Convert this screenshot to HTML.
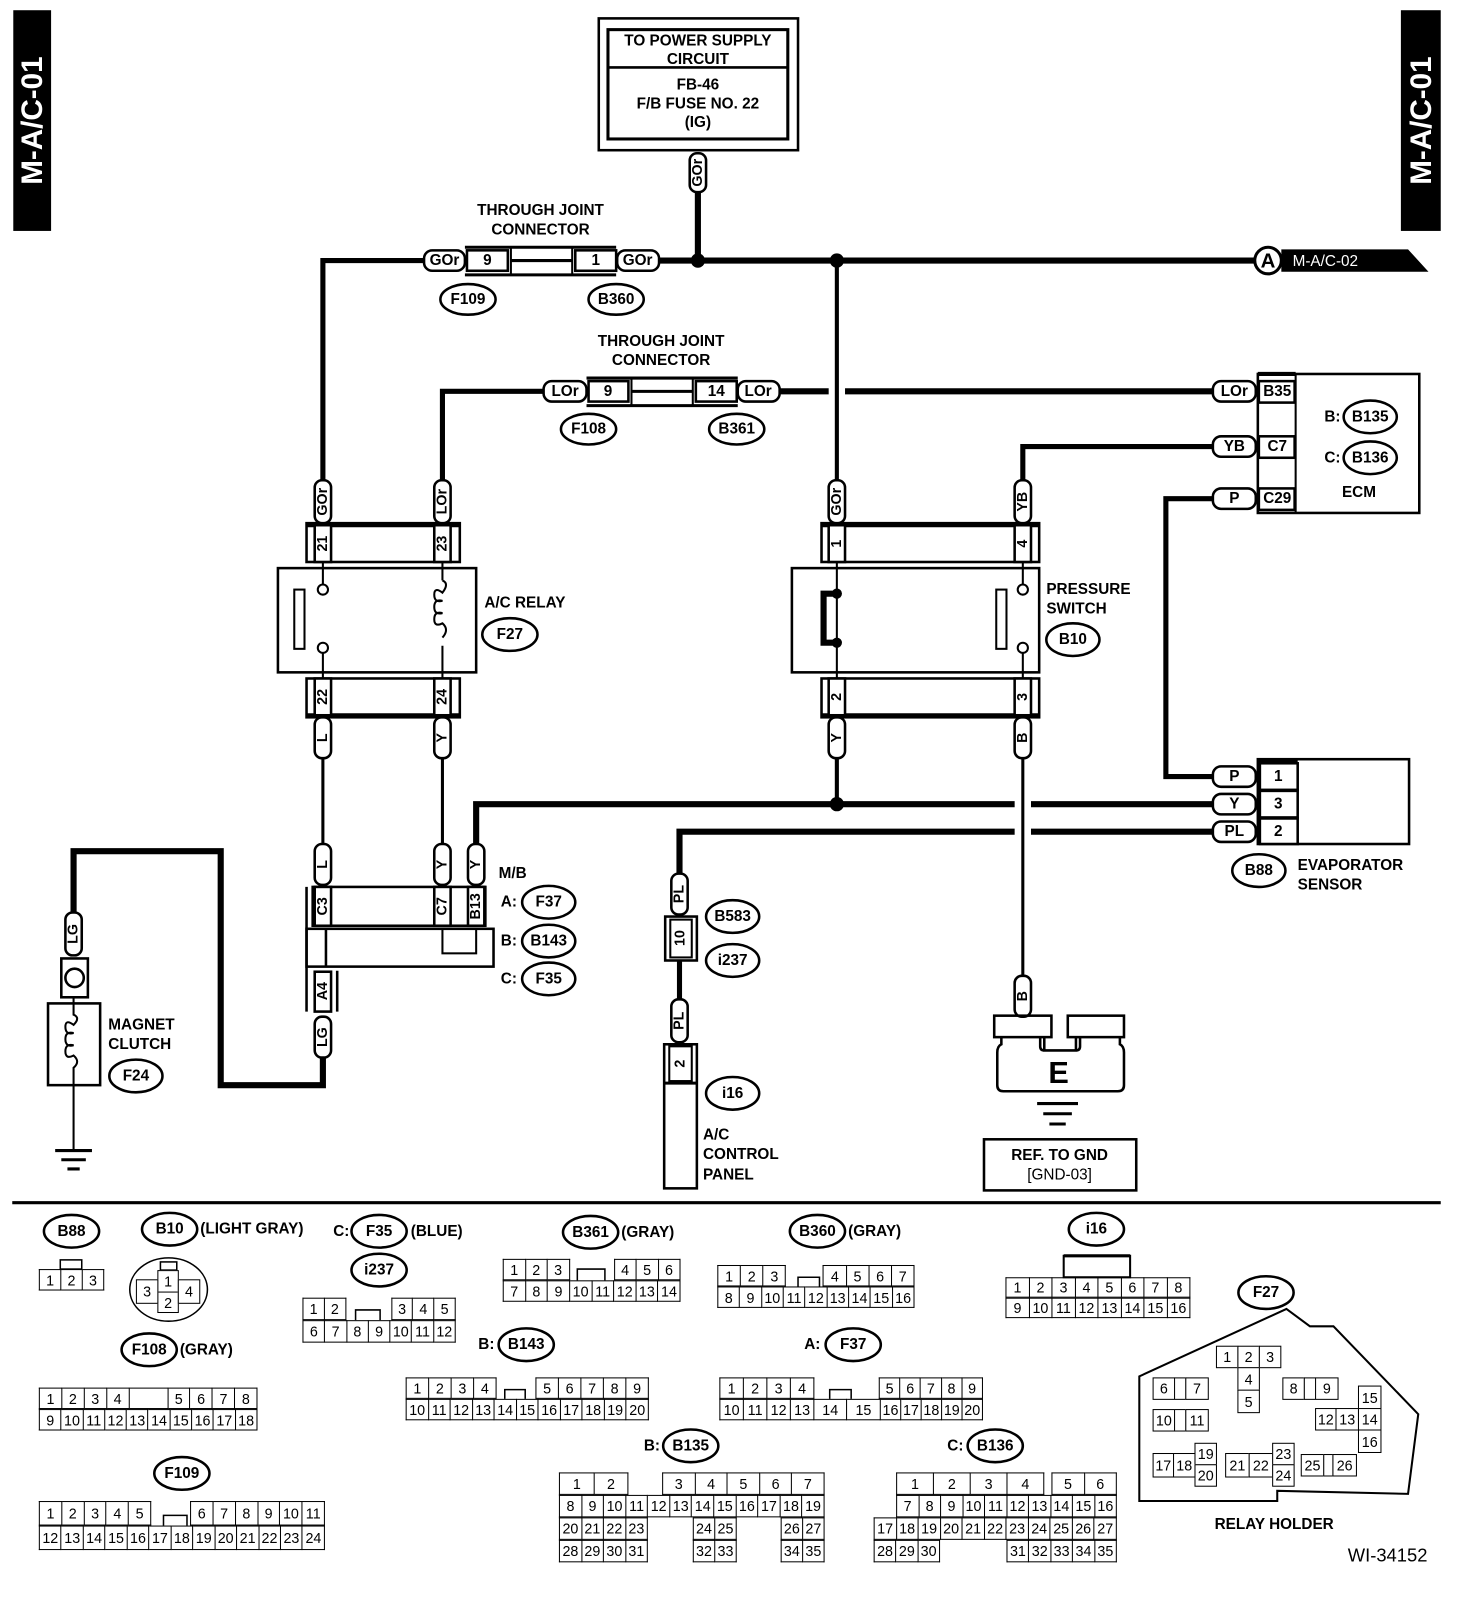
<!DOCTYPE html>
<html><head><meta charset="utf-8">
<style>
html,body{margin:0;padding:0;background:#fff;width:1472px;height:1602px;overflow:hidden}
#w{position:absolute;left:0;top:0;width:1430px;height:1556px;transform-origin:0 0;transform:scale(1.0218,1.0218)}
svg{position:absolute;left:0;top:0}
svg text{font-family:"Liberation Sans Narrow","Liberation Sans",sans-serif;font-weight:bold;font-size:15px;text-anchor:middle;dominant-baseline:central;fill:#000}
.n{fill:none;stroke:#000}
.tg{fill:#fff;stroke:#000;stroke-width:2.5}
.bx{fill:#fff;stroke:#000;stroke-width:2.5}
.ov{fill:#fff;stroke:#000;stroke-width:2.5}
table.r{position:absolute;border-collapse:collapse;table-layout:fixed}
table.r td{border:1.5px solid #000;text-align:center;vertical-align:middle;padding:0;font:14px "Liberation Sans Narrow","Liberation Sans",sans-serif;line-height:1;overflow:hidden}
table.r td.g{border:none}
table.r td.e{border:1.5px solid #000}
.b{position:absolute;box-sizing:border-box;border:1.5px solid #000;text-align:center;font:14px "Liberation Sans Narrow","Liberation Sans",sans-serif;display:flex;align-items:center;justify-content:center;background:#fff}
</style></head><body>
<div id="w">
<svg width="1430" height="1556" viewBox="0 0 1430 1556">
<rect x="13" y="10" width="37" height="216" fill="#000"/>
<text transform="translate(32,118) rotate(-90)" style="fill:#fff;font-family:'Liberation Sans',sans-serif;font-size:29px">M-A/C-01</text>
<rect x="1371" y="10" width="39" height="216" fill="#000"/>
<text transform="translate(1391,118) rotate(-90)" style="fill:#fff;font-family:'Liberation Sans',sans-serif;font-size:29px">M-A/C-01</text>

<rect x="586" y="18" width="195" height="129" class="n" stroke-width="2.5"/>
<rect x="595" y="29" width="176" height="107" class="n" stroke-width="3"/>
<line x1="595" y1="66" x2="771" y2="66" stroke="#000" stroke-width="2.5"/>
<text x="683" y="40">TO POWER SUPPLY</text>
<text x="683" y="58">CIRCUIT</text>
<text x="683" y="83">FB-46</text>
<text x="683" y="102">F/B FUSE NO. 22</text>
<text x="683" y="120">(IG)</text>

<g class="n" stroke-linejoin="miter">
<path d="M683 188V255" stroke-width="6"/>
<path d="M316 470V255H415" stroke-width="5"/>
<path d="M645 255H1228" stroke-width="6"/>
<path d="M819 255V470" stroke-width="4"/>
<path d="M433 470V383H532" stroke-width="5"/>
<path d="M763 383H811M827 383H1187" stroke-width="6"/>
<path d="M1187 437H1001V470" stroke-width="5"/>
<path d="M1187 488H1141V760H1187" stroke-width="5"/>
<path d="M316 742V826M433 742V826" stroke-width="3"/>
<path d="M819 742V787" stroke-width="4"/>
<path d="M466 826V787H993M1009 787H1187" stroke-width="6"/>
<path d="M665 855V814H993M1009 814H1187" stroke-width="6"/>
<path d="M1001 742V955" stroke-width="3"/>
<path d="M665 940V978" stroke-width="5"/>
<path d="M316 1035V1062H216V833H72V893" stroke-width="6"/>
<path d="M72 1062V1125" stroke-width="2"/>
</g>
<circle cx="683" cy="255" r="7"/><circle cx="819" cy="255" r="7"/><circle cx="819" cy="787" r="7"/>

<polygon points="1254,244 1378,244 1398,266 1254,266" fill="#000"/>
<circle cx="1241" cy="255" r="13" fill="#fff" stroke="#000" stroke-width="3"/>
<text x="1241" y="256" style="font-size:20px">A</text>
<text x="1265" y="256" style="fill:#fff;text-anchor:start;font-weight:normal">M-A/C-02</text>

<text x="529" y="206">THROUGH JOINT</text><text x="529" y="225">CONNECTOR</text>
<line x1="455" y1="242" x2="603" y2="242" stroke="#000" stroke-width="3"/>
<line x1="455" y1="269" x2="603" y2="269" stroke="#000" stroke-width="3"/>
<line x1="500" y1="242" x2="500" y2="269" stroke="#000" stroke-width="2"/>
<line x1="560" y1="242" x2="560" y2="269" stroke="#000" stroke-width="2"/>
<line x1="500" y1="255" x2="560" y2="255" stroke="#000" stroke-width="3"/>
<rect x="457" y="245" width="40" height="20" class="bx"/><text x="477" y="255">9</text>
<rect x="563" y="245" width="40" height="20" class="bx"/><text x="583" y="255">1</text>
<rect x="415" y="245" width="40" height="20" rx="8" class="tg"/><text x="435" y="255">GOr</text>
<rect x="604" y="245" width="41" height="20" rx="8" class="tg"/><text x="624" y="255">GOr</text>
<ellipse cx="458" cy="293" rx="27" ry="15" class="ov"/><text x="458" y="293">F109</text>
<ellipse cx="603" cy="293" rx="27" ry="15" class="ov"/><text x="603" y="293">B360</text>

<text x="647" y="334">THROUGH JOINT</text><text x="647" y="353">CONNECTOR</text>
<line x1="574" y1="370" x2="722" y2="370" stroke="#000" stroke-width="3"/>
<line x1="574" y1="397" x2="722" y2="397" stroke="#000" stroke-width="3"/>
<line x1="618" y1="370" x2="618" y2="397" stroke="#000" stroke-width="2"/>
<line x1="678" y1="370" x2="678" y2="397" stroke="#000" stroke-width="2"/>
<line x1="618" y1="383" x2="678" y2="383" stroke="#000" stroke-width="3"/>
<rect x="576" y="373" width="39" height="20" class="bx"/><text x="595" y="383">9</text>
<rect x="681" y="373" width="40" height="20" class="bx"/><text x="701" y="383">14</text>
<rect x="532" y="373" width="42" height="20" rx="8" class="tg"/><text x="553" y="383">LOr</text>
<rect x="722" y="373" width="41" height="20" rx="8" class="tg"/><text x="742" y="383">LOr</text>
<ellipse cx="576" cy="420" rx="27" ry="15" class="ov"/><text x="576" y="420">F108</text>
<ellipse cx="721" cy="420" rx="27" ry="15" class="ov"/><text x="721" y="420">B361</text>

<rect x="1231" y="366" width="158" height="136" class="n" stroke-width="2.5"/>
<line x1="1231" y1="366" x2="1268" y2="366" stroke="#000" stroke-width="4"/>
<line x1="1268" y1="366" x2="1268" y2="502" stroke="#000" stroke-width="2"/>
<rect x="1232" y="373" width="35" height="21" class="bx" stroke-width="2"/><text x="1250" y="383">B35</text>
<rect x="1232" y="427" width="35" height="21" class="bx" stroke-width="2"/><text x="1250" y="437">C7</text>
<rect x="1232" y="478" width="35" height="21" class="bx" stroke-width="2"/><text x="1250" y="488">C29</text>
<rect x="1187" y="373" width="42" height="20" rx="8" class="tg"/><text x="1208" y="383">LOr</text>
<rect x="1187" y="427" width="42" height="20" rx="8" class="tg"/><text x="1208" y="437">YB</text>
<rect x="1187" y="478" width="42" height="20" rx="8" class="tg"/><text x="1208" y="488">P</text>
<text x="1304" y="408">B:</text><ellipse cx="1341" cy="408" rx="26" ry="16" class="ov"/><text x="1341" y="408">B135</text>
<text x="1304" y="448">C:</text><ellipse cx="1341" cy="448" rx="26" ry="16" class="ov"/><text x="1341" y="448">B136</text>
<text x="1330" y="482">ECM</text>

<rect x="300" y="512" width="150" height="38" class="n" stroke-width="2.5"/>
<line x1="300" y1="514" x2="450" y2="514" stroke="#000" stroke-width="4"/>
<rect x="308" y="514" width="16" height="36" class="bx" stroke-width="2"/><text transform="translate(316,532) rotate(-90)" style="font-size:14px">21</text>
<rect x="425" y="514" width="16" height="36" class="bx" stroke-width="2"/><text transform="translate(433,532) rotate(-90)" style="font-size:14px">23</text>
<rect x="272" y="556" width="194" height="102" class="n" stroke-width="2.5"/>
<path d="M316 550V572M316 639V664M433 550V568M433 632V664" class="n" stroke-width="2"/>
<circle cx="316" cy="577" r="5" class="n" stroke-width="2"/><circle cx="316" cy="634" r="5" class="n" stroke-width="2"/>
<rect x="288" y="577" width="10" height="58" class="n" stroke-width="2"/>
<path d="M433 568q7 3 0 12q-8 -6 -8 2q0 8 8 6q-8 -2 -8 6q0 8 8 6q-8 -2 -8 6q0 8 8 4q7 6 0 14" class="n" stroke-width="2"/>
<rect x="300" y="664" width="150" height="38" class="n" stroke-width="2.5"/>
<line x1="300" y1="700" x2="450" y2="700" stroke="#000" stroke-width="4"/>
<rect x="308" y="664" width="16" height="36" class="bx" stroke-width="2"/><text transform="translate(316,682) rotate(-90)" style="font-size:14px">22</text>
<rect x="425" y="664" width="16" height="36" class="bx" stroke-width="2"/><text transform="translate(433,682) rotate(-90)" style="font-size:14px">24</text>
<text x="474" y="590" style="text-anchor:start">A/C RELAY</text>
<ellipse cx="499" cy="621" rx="27" ry="16" class="ov"/><text x="499" y="621">F27</text>

<rect x="804" y="512" width="213" height="38" class="n" stroke-width="2.5"/>
<line x1="804" y1="514" x2="1017" y2="514" stroke="#000" stroke-width="4"/>
<rect x="811" y="514" width="16" height="36" class="bx" stroke-width="2"/><text transform="translate(819,532) rotate(-90)" style="font-size:14px">1</text>
<rect x="993" y="514" width="16" height="36" class="bx" stroke-width="2"/><text transform="translate(1001,532) rotate(-90)" style="font-size:14px">4</text>
<rect x="775" y="556" width="242" height="102" class="n" stroke-width="2.5"/>
<path d="M819 550V664M1001 550V572M1001 639V664" class="n" stroke-width="2"/>
<circle cx="819" cy="581" r="5"/><circle cx="819" cy="629" r="5"/>
<path d="M819 581H806V629H819" class="n" stroke-width="6"/>
<circle cx="1001" cy="577" r="5" class="n" stroke-width="2" fill="#fff"/><circle cx="1001" cy="634" r="5" class="n" stroke-width="2"/>
<rect x="975" y="577" width="10" height="58" class="n" stroke-width="2"/>
<rect x="804" y="664" width="213" height="38" class="n" stroke-width="2.5"/>
<line x1="804" y1="700" x2="1017" y2="700" stroke="#000" stroke-width="4"/>
<rect x="811" y="664" width="16" height="36" class="bx" stroke-width="2"/><text transform="translate(819,682) rotate(-90)" style="font-size:14px">2</text>
<rect x="993" y="664" width="16" height="36" class="bx" stroke-width="2"/><text transform="translate(1001,682) rotate(-90)" style="font-size:14px">3</text>
<text x="1024" y="577" style="text-anchor:start">PRESSURE</text>
<text x="1024" y="596" style="text-anchor:start">SWITCH</text>
<ellipse cx="1050" cy="626" rx="26" ry="16" class="ov"/><text x="1050" y="626">B10</text>

<g>
<rect x="675" y="150" width="16" height="38" rx="7" class="tg"/><text transform="translate(683,169) rotate(-90)" style="font-size:14px">GOr</text>
<rect x="308" y="470" width="16" height="42" rx="7" class="tg"/><text transform="translate(316,491) rotate(-90)" style="font-size:14px">GOr</text>
<rect x="425" y="470" width="16" height="42" rx="7" class="tg"/><text transform="translate(433,491) rotate(-90)" style="font-size:14px">LOr</text>
<rect x="811" y="470" width="16" height="42" rx="7" class="tg"/><text transform="translate(819,491) rotate(-90)" style="font-size:14px">GOr</text>
<rect x="993" y="470" width="16" height="42" rx="7" class="tg"/><text transform="translate(1001,491) rotate(-90)" style="font-size:14px">YB</text>
<rect x="308" y="702" width="16" height="40" rx="7" class="tg"/><text transform="translate(316,722) rotate(-90)" style="font-size:14px">L</text>
<rect x="425" y="702" width="16" height="40" rx="7" class="tg"/><text transform="translate(433,722) rotate(-90)" style="font-size:14px">Y</text>
<rect x="811" y="702" width="16" height="40" rx="7" class="tg"/><text transform="translate(819,722) rotate(-90)" style="font-size:14px">Y</text>
<rect x="993" y="702" width="16" height="40" rx="7" class="tg"/><text transform="translate(1001,722) rotate(-90)" style="font-size:14px">B</text>
<rect x="308" y="826" width="16" height="40" rx="7" class="tg"/><text transform="translate(316,846) rotate(-90)" style="font-size:14px">L</text>
<rect x="425" y="826" width="16" height="40" rx="7" class="tg"/><text transform="translate(433,846) rotate(-90)" style="font-size:14px">Y</text>
<rect x="458" y="826" width="16" height="40" rx="7" class="tg"/><text transform="translate(466,846) rotate(-90)" style="font-size:14px">Y</text>
<rect x="64" y="893" width="16" height="42" rx="7" class="tg"/><text transform="translate(72,914) rotate(-90)" style="font-size:14px">LG</text>
<rect x="308" y="995" width="16" height="40" rx="7" class="tg"/><text transform="translate(316,1015) rotate(-90)" style="font-size:14px">LG</text>
<rect x="657" y="855" width="16" height="40" rx="7" class="tg"/><text transform="translate(665,875) rotate(-90)" style="font-size:14px">PL</text>
<rect x="657" y="978" width="16" height="42" rx="7" class="tg"/><text transform="translate(665,999) rotate(-90)" style="font-size:14px">PL</text>
<rect x="993" y="955" width="16" height="40" rx="7" class="tg"/><text transform="translate(1001,975) rotate(-90)" style="font-size:14px">B</text>
</g>

<rect x="1231" y="743" width="148" height="83" class="n" stroke-width="2.5"/>
<line x1="1231" y1="744" x2="1270" y2="744" stroke="#000" stroke-width="4"/>
<rect x="1233" y="747" width="37" height="26" class="bx" stroke-width="2"/><text x="1251" y="760">1</text>
<rect x="1233" y="774" width="37" height="26" class="bx" stroke-width="2"/><text x="1251" y="787">3</text>
<rect x="1233" y="801" width="37" height="25" class="bx" stroke-width="2"/><text x="1251" y="814">2</text>
<rect x="1187" y="750" width="42" height="20" rx="8" class="tg"/><text x="1208" y="760">P</text>
<rect x="1187" y="777" width="42" height="20" rx="8" class="tg"/><text x="1208" y="787">Y</text>
<rect x="1187" y="804" width="42" height="20" rx="8" class="tg"/><text x="1208" y="814">PL</text>
<ellipse cx="1232" cy="852" rx="26" ry="16" class="ov"/><text x="1232" y="852">B88</text>
<text x="1270" y="847" style="text-anchor:start">EVAPORATOR</text>
<text x="1270" y="866" style="text-anchor:start">SENSOR</text>

<path d="M300 868V990M330 950V990" class="n" stroke-width="2.5"/>
<rect x="306" y="868" width="169" height="38" class="n" stroke-width="2.5"/>
<rect x="308" y="868" width="16" height="38" class="bx" stroke-width="2"/><text transform="translate(316,887) rotate(-90)" style="font-size:14px">C3</text>
<rect x="425" y="868" width="16" height="38" class="bx" stroke-width="2"/><text transform="translate(433,887) rotate(-90)" style="font-size:14px">C7</text>
<rect x="458" y="868" width="16" height="38" class="bx" stroke-width="2"/><text transform="translate(466,887) rotate(-90)" style="font-size:14px">B13</text>
<rect x="300" y="909" width="183" height="37" class="n" stroke-width="2.5"/>
<line x1="319" y1="909" x2="319" y2="946" stroke="#000" stroke-width="2.5"/>
<rect x="433" y="909" width="33" height="24" class="n" stroke-width="2"/>
<rect x="308" y="951" width="16" height="39" class="bx" stroke-width="2"/><text transform="translate(316,970) rotate(-90)" style="font-size:14px">A4</text>
<text x="488" y="855" style="text-anchor:start">M/B</text>
<text x="498" y="883">A:</text><ellipse cx="537" cy="883" rx="26" ry="16" class="ov"/><text x="537" y="883">F37</text>
<text x="498" y="921">B:</text><ellipse cx="537" cy="921" rx="26" ry="16" class="ov"/><text x="537" y="921">B143</text>
<text x="498" y="958">C:</text><ellipse cx="537" cy="958" rx="26" ry="16" class="ov"/><text x="537" y="958">F35</text>

<rect x="60" y="938" width="26" height="38" class="bx" stroke-width="2.5"/>
<circle cx="73" cy="957" r="9" class="n" stroke-width="2.5"/>
<rect x="47" y="982" width="51" height="80" class="n" stroke-width="2.5"/>
<path d="M72 976V993q7 3 0 10q-8 -6 -8 2q0 8 8 6q-8 -2 -8 6q0 8 8 6q-8 -2 -8 6q0 8 8 4q7 6 0 12V1062" class="n" stroke-width="2"/>
<text x="106" y="1003" style="text-anchor:start">MAGNET</text>
<text x="106" y="1022" style="text-anchor:start">CLUTCH</text>
<ellipse cx="133" cy="1053" rx="26" ry="16" class="ov"/><text x="133" y="1053">F24</text>
<path d="M54 1126H90M60 1135H84M66 1144H78" class="n" stroke-width="3"/>

<rect x="651" y="897" width="31" height="43" class="bx" stroke-width="2.5"/>
<rect x="656" y="900" width="21" height="37" class="n" stroke-width="2"/>
<text transform="translate(666,918) rotate(-90)" style="font-size:14px">10</text>
<ellipse cx="717" cy="897" rx="26" ry="16" class="ov"/><text x="717" y="897">B583</text>
<ellipse cx="717" cy="940" rx="26" ry="16" class="ov"/><text x="717" y="940">i237</text>
<rect x="650" y="1022" width="32" height="141" class="n" stroke-width="2.5"/>
<rect x="655" y="1024" width="22" height="34" class="n" stroke-width="2"/>
<line x1="650" y1="1060" x2="682" y2="1060" stroke="#000" stroke-width="3"/>
<text transform="translate(666,1041) rotate(-90)" style="font-size:14px">2</text>
<ellipse cx="717" cy="1070" rx="26" ry="16" class="ov"/><text x="717" y="1070">i16</text>
<text x="688" y="1111" style="text-anchor:start">A/C</text>
<text x="688" y="1130" style="text-anchor:start">CONTROL</text>
<text x="688" y="1150" style="text-anchor:start">PANEL</text>

<rect x="973" y="994" width="56" height="21" class="n" stroke-width="2.5"/>
<rect x="1045" y="994" width="55" height="21" class="n" stroke-width="2.5"/>
<path d="M980 1015V1022q-4 2 -4 8V1062q0 6 6 6H1094q6 0 6 -6V1030q0 -6 -4 -8V1015M1022 1015V1028H1053V1015M1022 1028q-4 0 -4 -4V1015M1053 1028q4 0 4 -4V1015" class="n" stroke-width="2.5"/>
<text x="1036" y="1050" style="font-family:'Liberation Sans',sans-serif;font-size:30px">E</text>
<path d="M1015 1080H1055M1021 1090H1049M1027 1100H1043" class="n" stroke-width="3"/>
<rect x="963" y="1115" width="149" height="50" class="n" stroke-width="2.5"/>
<text x="1037" y="1131">REF. TO GND</text>
<text x="1037" y="1150" style="font-weight:normal">[GND-03]</text>

<line x1="12" y1="1177" x2="1410" y2="1177" stroke="#000" stroke-width="3"/>

<ellipse cx="70" cy="1205" rx="27" ry="16" class="ov"/><text x="70" y="1205">B88</text>
<ellipse cx="166" cy="1203" rx="27" ry="16" class="ov"/><text x="166" y="1203">B10</text>
<text x="196" y="1203" style="text-anchor:start">(LIGHT GRAY)</text>
<text x="334" y="1205">C:</text>
<ellipse cx="371" cy="1205" rx="27" ry="16" class="ov"/><text x="371" y="1205">F35</text>
<text x="402" y="1205" style="text-anchor:start">(BLUE)</text>
<ellipse cx="371" cy="1243" rx="27" ry="16" class="ov"/><text x="371" y="1243">i237</text>
<ellipse cx="578" cy="1206" rx="27" ry="16" class="ov"/><text x="578" y="1206">B361</text>
<text x="608" y="1206" style="text-anchor:start">(GRAY)</text>
<ellipse cx="800" cy="1205" rx="27" ry="16" class="ov"/><text x="800" y="1205">B360</text>
<text x="830" y="1205" style="text-anchor:start">(GRAY)</text>
<ellipse cx="1073" cy="1203" rx="27" ry="16" class="ov"/><text x="1073" y="1203">i16</text>
<ellipse cx="146" cy="1321" rx="27" ry="16" class="ov"/><text x="146" y="1321">F108</text>
<text x="176" y="1321" style="text-anchor:start">(GRAY)</text>
<text x="476" y="1316">B:</text>
<ellipse cx="515" cy="1316" rx="27" ry="16" class="ov"/><text x="515" y="1316">B143</text>
<text x="795" y="1316">A:</text>
<ellipse cx="835" cy="1316" rx="27" ry="16" class="ov"/><text x="835" y="1316">F37</text>
<ellipse cx="178" cy="1442" rx="27" ry="16" class="ov"/><text x="178" y="1442">F109</text>
<text x="638" y="1415">B:</text>
<ellipse cx="676" cy="1415" rx="27" ry="16" class="ov"/><text x="676" y="1415">B135</text>
<text x="935" y="1415">C:</text>
<ellipse cx="974" cy="1415" rx="27" ry="16" class="ov"/><text x="974" y="1415">B136</text>
<ellipse cx="1239" cy="1265" rx="27" ry="16" class="ov"/><text x="1239" y="1265">F27</text>
<polygon points="1259,1281 1282,1298 1305,1298 1388,1384 1378,1462 1250,1459 1250,1469 1115,1469 1115,1347" class="n" stroke-width="2"/>
<text x="1247" y="1492">RELAY HOLDER</text>
<text x="1358" y="1522" style="font-weight:normal;font-size:18px">WI-34152</text>

<ellipse cx="165" cy="1262" rx="38" ry="31" class="n" stroke-width="1.5"/>
<rect x="157" y="1235" width="16" height="8" class="n" stroke-width="1.5"/>
<rect x="59" y="1233" width="21" height="9" class="n" stroke-width="1.5"/>
<rect x="1041" y="1229" width="65" height="21" class="n" stroke-width="2"/>
<line x1="1041" y1="1229" x2="1106" y2="1229" stroke="#000" stroke-width="3"/>
<path d="M348 1292V1282H372V1292M565 1253V1242H592V1253M781 1259V1250H802V1259M494 1369V1360H514V1369M812 1369V1360H833V1369M160 1493V1483H183V1493" class="n" stroke-width="1.5"/>
</svg>

<div class="b" style="left:154px;top:1243px;width:21px;height:22px">1</div>
<div class="b" style="left:154px;top:1264px;width:21px;height:21px">2</div>
<div class="b" style="left:133px;top:1252px;width:22px;height:24px">3</div>
<div class="b" style="left:174px;top:1252px;width:22px;height:24px">4</div>

<table class="r" style="left:38px;top:1242px;width:64px;height:21px"><tr><td>1</td><td>2</td><td>3</td></tr></table>

<table class="r" style="left:296px;top:1270px;width:150px;height:22px"><tr><td>1</td><td>2</td><td class="g" style="width:44px"></td><td>3</td><td>4</td><td>5</td></tr></table>
<table class="r" style="left:296px;top:1292px;width:150px;height:22px"><tr><td>6</td><td>7</td><td>8</td><td>9</td><td>10</td><td>11</td><td>12</td></tr></table>

<table class="r" style="left:492px;top:1232px;width:174px;height:21px"><tr><td>1</td><td>2</td><td>3</td><td class="g" style="width:43px"></td><td>4</td><td>5</td><td>6</td></tr></table>
<table class="r" style="left:492px;top:1253px;width:174px;height:21px"><tr><td>7</td><td>8</td><td>9</td><td>10</td><td>11</td><td>12</td><td>13</td><td>14</td></tr></table>

<table class="r" style="left:702px;top:1238px;width:193px;height:21px"><tr><td>1</td><td>2</td><td>3</td><td class="g" style="width:36px"></td><td>4</td><td>5</td><td>6</td><td>7</td></tr></table>
<table class="r" style="left:702px;top:1259px;width:193px;height:21px"><tr><td>8</td><td>9</td><td>10</td><td>11</td><td>12</td><td>13</td><td>14</td><td>15</td><td>16</td></tr></table>

<table class="r" style="left:984px;top:1250px;width:181px;height:20px"><tr><td>1</td><td>2</td><td>3</td><td>4</td><td>5</td><td>6</td><td>7</td><td>8</td></tr></table>
<table class="r" style="left:984px;top:1270px;width:181px;height:20px"><tr><td>9</td><td>10</td><td>11</td><td>12</td><td>13</td><td>14</td><td>15</td><td>16</td></tr></table>

<table class="r" style="left:38px;top:1358px;width:214px;height:21px"><tr><td>1</td><td>2</td><td>3</td><td>4</td><td class="e" style="width:37px"></td><td>5</td><td>6</td><td>7</td><td>8</td></tr></table>
<table class="r" style="left:38px;top:1379px;width:214px;height:21px"><tr><td>9</td><td>10</td><td>11</td><td>12</td><td>13</td><td>14</td><td>15</td><td>16</td><td>17</td><td>18</td></tr></table>

<table class="r" style="left:397px;top:1348px;width:238px;height:21px"><tr><td>1</td><td>2</td><td>3</td><td>4</td><td class="g" style="width:38px"></td><td>5</td><td>6</td><td>7</td><td>8</td><td>9</td></tr></table>
<table class="r" style="left:397px;top:1369px;width:238px;height:21px"><tr><td>10</td><td>11</td><td>12</td><td>13</td><td>14</td><td>15</td><td>16</td><td>17</td><td>18</td><td>19</td><td>20</td></tr></table>

<table class="r" style="left:704px;top:1348px;width:258px;height:21px"><tr><td style="width:22px">1</td><td style="width:22px">2</td><td style="width:22px">3</td><td style="width:22px">4</td><td class="g" style="width:63px"></td><td>5</td><td>6</td><td>7</td><td>8</td><td>9</td></tr></table>
<table class="r" style="left:704px;top:1369px;width:258px;height:21px"><tr><td style="width:22px">10</td><td style="width:22px">11</td><td style="width:22px">12</td><td style="width:22px">13</td><td style="width:31px">14</td><td style="width:32px">15</td><td>16</td><td>17</td><td>18</td><td>19</td><td>20</td></tr></table>

<table class="r" style="left:38px;top:1469px;width:280px;height:24px"><tr><td>1</td><td>2</td><td>3</td><td>4</td><td>5</td><td class="g" style="width:38px"></td><td>6</td><td>7</td><td>8</td><td>9</td><td>10</td><td>11</td></tr></table>
<table class="r" style="left:38px;top:1493px;width:280px;height:24px"><tr><td>12</td><td>13</td><td>14</td><td>15</td><td>16</td><td>17</td><td>18</td><td>19</td><td>20</td><td>21</td><td>22</td><td>23</td><td>24</td></tr></table>

<table class="r" style="left:547px;top:1441px;width:260px;height:22px"><tr><td style="width:33px">1</td><td style="width:32px">2</td><td class="g" style="width:33px"></td><td>3</td><td>4</td><td>5</td><td>6</td><td>7</td></tr></table>
<table class="r" style="left:547px;top:1463px;width:260px;height:22px"><tr><td>8</td><td>9</td><td>10</td><td>11</td><td>12</td><td>13</td><td>14</td><td>15</td><td>16</td><td>17</td><td>18</td><td>19</td></tr></table>
<table class="r" style="left:547px;top:1485px;width:87px;height:22px"><tr><td>20</td><td>21</td><td>22</td><td>23</td></tr></table>
<table class="r" style="left:678px;top:1485px;width:43px;height:22px"><tr><td>24</td><td>25</td></tr></table>
<table class="r" style="left:764px;top:1485px;width:43px;height:22px"><tr><td>26</td><td>27</td></tr></table>
<table class="r" style="left:547px;top:1507px;width:87px;height:22px"><tr><td>28</td><td>29</td><td>30</td><td>31</td></tr></table>
<table class="r" style="left:678px;top:1507px;width:43px;height:22px"><tr><td>32</td><td>33</td></tr></table>
<table class="r" style="left:764px;top:1507px;width:43px;height:22px"><tr><td>34</td><td>35</td></tr></table>

<table class="r" style="left:877px;top:1441px;width:145px;height:22px"><tr><td>1</td><td>2</td><td>3</td><td>4</td></tr></table>
<table class="r" style="left:1029px;top:1441px;width:64px;height:22px"><tr><td>5</td><td>6</td></tr></table>
<table class="r" style="left:877px;top:1463px;width:216px;height:22px"><tr><td>7</td><td>8</td><td>9</td><td>10</td><td>11</td><td>12</td><td>13</td><td>14</td><td>15</td><td>16</td></tr></table>
<table class="r" style="left:855px;top:1485px;width:238px;height:22px"><tr><td>17</td><td>18</td><td>19</td><td>20</td><td>21</td><td>22</td><td>23</td><td>24</td><td>25</td><td>26</td><td>27</td></tr></table>
<table class="r" style="left:855px;top:1507px;width:65px;height:22px"><tr><td>28</td><td>29</td><td>30</td></tr></table>
<table class="r" style="left:985px;top:1507px;width:108px;height:22px"><tr><td>31</td><td>32</td><td>33</td><td>34</td><td>35</td></tr></table>

<div class="b" style="left:1190px;top:1317px;width:22px;height:22px">1</div>
<div class="b" style="left:1211px;top:1317px;width:22px;height:22px">2</div>
<div class="b" style="left:1232px;top:1317px;width:22px;height:22px">3</div>
<div class="b" style="left:1211px;top:1338px;width:22px;height:23px">4</div>
<div class="b" style="left:1211px;top:1360px;width:22px;height:23px">5</div>
<div class="b" style="left:1128px;top:1348px;width:22px;height:22px">6</div>
<div class="b" style="left:1149px;top:1348px;width:12px;height:22px"></div>
<div class="b" style="left:1160px;top:1348px;width:23px;height:22px">7</div>
<div class="b" style="left:1128px;top:1379px;width:22px;height:22px">10</div>
<div class="b" style="left:1149px;top:1379px;width:12px;height:22px"></div>
<div class="b" style="left:1160px;top:1379px;width:23px;height:22px">11</div>
<div class="b" style="left:1255px;top:1348px;width:22px;height:22px">8</div>
<div class="b" style="left:1276px;top:1348px;width:12px;height:22px"></div>
<div class="b" style="left:1287px;top:1348px;width:23px;height:22px">9</div>
<div class="b" style="left:1329px;top:1356px;width:23px;height:23px">15</div>
<div class="b" style="left:1287px;top:1378px;width:21px;height:22px">12</div>
<div class="b" style="left:1307px;top:1378px;width:23px;height:22px">13</div>
<div class="b" style="left:1329px;top:1378px;width:23px;height:22px">14</div>
<div class="b" style="left:1329px;top:1399px;width:23px;height:23px">16</div>
<div class="b" style="left:1128px;top:1422px;width:21px;height:24px">17</div>
<div class="b" style="left:1148px;top:1422px;width:22px;height:24px">18</div>
<div class="b" style="left:1169px;top:1412px;width:22px;height:22px">19</div>
<div class="b" style="left:1169px;top:1433px;width:22px;height:22px">20</div>
<div class="b" style="left:1199px;top:1422px;width:24px;height:24px">21</div>
<div class="b" style="left:1222px;top:1422px;width:24px;height:24px">22</div>
<div class="b" style="left:1245px;top:1412px;width:22px;height:22px">23</div>
<div class="b" style="left:1245px;top:1433px;width:22px;height:22px">24</div>
<div class="b" style="left:1273px;top:1423px;width:23px;height:22px">25</div>
<div class="b" style="left:1295px;top:1423px;width:10px;height:22px"></div>
<div class="b" style="left:1304px;top:1423px;width:24px;height:22px">26</div>
</div>
</body></html>
